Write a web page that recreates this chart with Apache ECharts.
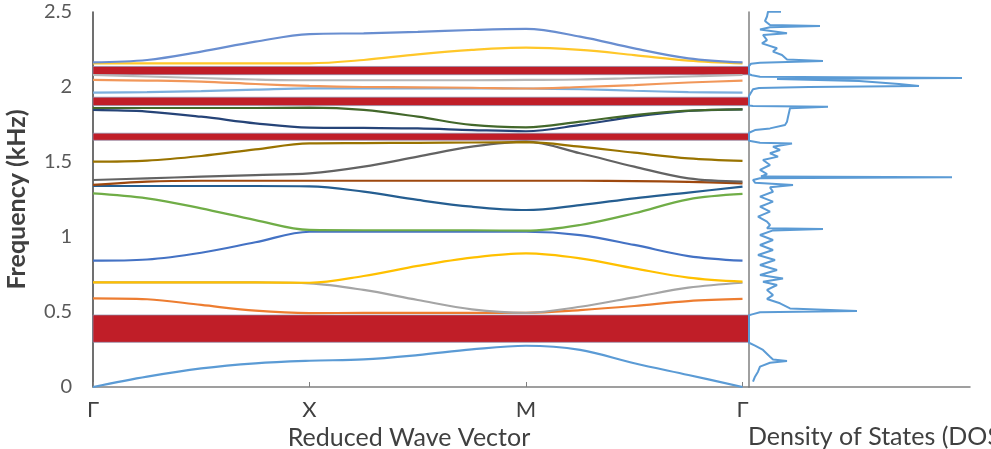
<!DOCTYPE html>
<html>
<head>
<meta charset="utf-8">
<style>
html,body{margin:0;padding:0;background:#fff;overflow:hidden;width:991px;height:449px;}
#chart{width:991px;height:449px;overflow:hidden;}
</style>
<script src="https://cdn.jsdelivr.net/npm/echarts@6/dist/echarts.min.js"></script>
</head>
<body>
<div id="chart"></div>
<script>
// Wave-vector sample positions (Γ=0, X=1, M=2, Γ=3)
const kPoints = [0, 0.25, 0.5, 0.75, 1, 1.25, 1.5, 1.75, 2, 2.25, 2.5, 2.75, 3];
const kLabels = ['Γ', 'X', 'M', 'Γ'];
const yTicks = [0, 0.5, 1, 1.5, 2, 2.5];

// Band frequencies (kHz) at each kPoint
const band1  = [0, 0.069, 0.124, 0.158, 0.175, 0.184, 0.213, 0.251, 0.275, 0.247, 0.158, 0.08, 0];
const band2  = [0.591, 0.585, 0.547, 0.509, 0.493, 0.494, 0.494, 0.494, 0.495, 0.513, 0.54, 0.573, 0.587];
const band3  = [0.698, 0.698, 0.698, 0.697, 0.691, 0.647, 0.58, 0.518, 0.495, 0.535, 0.598, 0.662, 0.695];
const band4  = [0.698, 0.698, 0.698, 0.697, 0.695, 0.74, 0.807, 0.862, 0.891, 0.858, 0.791, 0.729, 0.702];
const band5  = [0.842, 0.85, 0.895, 0.965, 1.035, 1.035, 1.035, 1.035, 1.035, 1.013, 0.947, 0.873, 0.842];
const band6  = [1.291, 1.258, 1.191, 1.113, 1.047, 1.045, 1.045, 1.045, 1.042, 1.08, 1.158, 1.251, 1.287];
const band7  = [1.34, 1.34, 1.34, 1.34, 1.338, 1.302, 1.247, 1.202, 1.18, 1.213, 1.258, 1.296, 1.336];
const band8  = [1.347, 1.369, 1.375, 1.375, 1.375, 1.375, 1.375, 1.375, 1.375, 1.375, 1.373, 1.368, 1.358];
const band9  = [1.38, 1.391, 1.402, 1.413, 1.424, 1.469, 1.536, 1.602, 1.636, 1.558, 1.469, 1.391, 1.369];
const band10 = [1.502, 1.509, 1.54, 1.584, 1.624, 1.626, 1.628, 1.63, 1.632, 1.602, 1.562, 1.524, 1.507];
const band11 = [1.847, 1.836, 1.802, 1.758, 1.729, 1.727, 1.724, 1.713, 1.705, 1.747, 1.802, 1.84, 1.851];
const band12 = [1.86, 1.86, 1.86, 1.86, 1.862, 1.847, 1.802, 1.747, 1.731, 1.769, 1.813, 1.842, 1.851];
const band13 = [1.962, 1.966, 1.973, 1.982, 1.991, 1.991, 1.991, 1.991, 1.99, 1.985, 1.975, 1.966, 1.962];
const band14 = [2.047, 2.043, 2.036, 2.02, 2.007, 2.0, 1.998, 1.995, 1.99, 2.0, 2.013, 2.03, 2.042];
const band15 = [2.08, 2.07, 2.06, 2.05, 2.045, 2.045, 2.045, 2.045, 2.047, 2.05, 2.06, 2.07, 2.08];
const band16 = [2.158, 2.158, 2.158, 2.158, 2.158, 2.18, 2.218, 2.247, 2.262, 2.247, 2.213, 2.176, 2.158];
const band17 = [2.164, 2.18, 2.236, 2.302, 2.353, 2.358, 2.367, 2.38, 2.387, 2.336, 2.258, 2.191, 2.164];

const bands = [band1, band2, band3, band4, band5, band6, band7, band8, band9,
               band10, band11, band12, band13, band14, band15, band16, band17];
const bandColors = ['#5B9BD5', '#ED7D31', '#A5A5A5', '#FFC000', '#4472C4', '#70AD47',
                    '#255E91', '#9E480E', '#636363', '#997300', '#264478', '#43682B',
                    '#7CAFDD', '#F1975A', '#B7B7B7', '#FFC729', '#698ED0'];

// Band gaps (kHz): [low, high]
const gaps = [[0.298, 0.48], [1.645, 1.692], [1.876, 1.932], [2.082, 2.137]];

// Density of states: frequency (kHz) and DOS value (arb. units)
const dosFreq = [2.502, 2.502, 2.47, 2.44, 2.413, 2.407, 2.398, 2.384, 2.358, 2.347, 2.313, 2.291, 2.258, 2.236, 2.213, 2.184, 2.173, 2.162, 2.155, 2.14,
  2.085, 2.078, 2.069, 2.06, 2.054, 2.046, 2.04, 2.02, 2.007, 2.0, 1.993, 1.985, 1.94,
  1.876, 1.873, 1.869, 1.858, 1.847, 1.8, 1.769, 1.747, 1.724, 1.713, 1.695,
  1.642, 1.629, 1.624, 1.602, 1.58, 1.558, 1.536, 1.513, 1.48, 1.447, 1.42, 1.403, 1.398, 1.392, 1.38, 1.362, 1.347, 1.331, 1.302, 1.269, 1.236, 1.202, 1.169, 1.136, 1.102,
  1.08, 1.058, 1.053, 1.044, 1.013, 0.98, 0.947, 0.913, 0.88, 0.847, 0.813, 0.78, 0.747, 0.724, 0.702, 0.68, 0.647, 0.613, 0.587, 0.558, 0.524, 0.507, 0.498, 0.484, 0.478,
  0.295, 0.276, 0.247, 0.202, 0.184, 0.173, 0.162, 0.136, 0.102, 0.069, 0.036];
const dosVal = [32, 19, 18, 16, 21, 71, 21, 11, 38, 14, 18, 13, 28, 24, 33, 38, 74, 11, 2, 0,
  0, 3, 11, 213, 28, 30, 110, 150, 170, 60, 10, 4, 0,
  0, 4, 79, 41, 39, 39, 38, 36, 21, 6, 0,
  0, 11, 43, 24, 31, 21, 29, 14, 21, 11, 18, 12, 203, 11, 4, 6, 44, 21, 24, 11, 24, 11, 21, 9, 18,
  21, 18, 74, 24, 11, 24, 11, 24, 9, 26, 11, 28, 11, 34, 14, 28, 18, 24, 18, 31, 41, 108, 11, 3, 0,
  0, 6, 14, 21, 24, 38, 21, 11, 9, 6, 4];

const font = 'Lato, "Open Sans", sans-serif';

const series = bands.map((b, i) => ({
  type: 'line',
  xAxisIndex: 0, yAxisIndex: 0,
  data: kPoints.map((k, j) => [k, b[j]]),
  smooth: 0.35,
  symbol: 'none',
  lineStyle: { color: bandColors[i], width: 2.2 },
  z: 2,
  silent: true
}));

series.push({
  type: 'line',
  xAxisIndex: 0, yAxisIndex: 0,
  data: [],
  z: 10,
  silent: true,
  markArea: {
    silent: true,
    itemStyle: { color: '#C01E28', borderColor: 'rgba(140,140,170,0.7)', borderWidth: 1 },
    data: gaps.map(g => [{ yAxis: g[0] }, { yAxis: g[1] }])
  }
});

series.push({
  type: 'line',
  xAxisIndex: 1, yAxisIndex: 1,
  data: dosFreq.map((f, i) => [dosVal[i], f]),
  symbol: 'none',
  lineStyle: { color: '#5B9BD5', width: 2 },
  z: 3,
  silent: true
});

const chart = echarts.init(document.getElementById('chart'), null, { width: 991, height: 449 });
chart.setOption({
  animation: false,
  backgroundColor: '#fff',
  title: {
    text: 'Density of States (DOS)',
    left: 748, top: 424,
    padding: 0,
    textStyle: { fontFamily: font, fontSize: 25, fontWeight: 'normal', color: '#404040' }
  },
  grid: [
    { left: 93, top: 12, width: 656, height: 375, containLabel: false, outerBoundsMode: 'none' },
    { left: 749, top: 12, width: 221, height: 375, containLabel: false, outerBoundsMode: 'none' }
  ],
  xAxis: [
    {
      gridIndex: 0, type: 'value', min: 0, max: 3.03, interval: 1,
      axisLine: { show: true, lineStyle: { color: '#808080', width: 1.5 } },
      axisTick: { show: true, inside: true, length: 5, lineStyle: { color: '#808080' } },
      splitLine: { show: false },
      axisLabel: {
        fontFamily: font, fontSize: 22, color: '#404040', margin: 12,
        showMaxLabel: false,
        formatter: v => (Math.abs(v - Math.round(v)) < 1e-6 && kLabels[Math.round(v)]) ? kLabels[Math.round(v)] : ''
      },
      name: 'Reduced Wave Vector',
      nameLocation: 'middle',
      nameGap: 37,
      nameTextStyle: { fontFamily: font, fontSize: 25, color: '#404040', padding: [0, 24, 0, 0] }
    },
    {
      gridIndex: 1, type: 'value', min: 0, max: 221,
      axisLine: { show: true, lineStyle: { color: '#808080', width: 1.5 } },
      axisTick: { show: false }, axisLabel: { show: false }, splitLine: { show: false }
    }
  ],
  yAxis: [
    {
      gridIndex: 0, type: 'value', min: 0, max: 2.5, interval: 0.5,
      axisLine: { show: true, lineStyle: { color: '#404040', width: 1.5 } },
      axisTick: { show: false },
      splitLine: { show: false },
      axisLabel: {
        fontFamily: font, fontSize: 20, color: '#595959', margin: 21,
        formatter: v => String(yTicks.find(t => Math.abs(t - v) < 1e-6) ?? v)
      },
      name: 'Frequency (kHz)',
      nameLocation: 'middle',
      nameRotate: 90,
      nameGap: 64,
      nameTextStyle: { fontFamily: font, fontSize: 25, fontWeight: 'bold', color: '#404040' }
    },
    {
      gridIndex: 1, type: 'value', min: 0, max: 2.5,
      axisLine: { show: true, lineStyle: { color: '#808080', width: 1.5 } },
      axisTick: { show: false }, axisLabel: { show: false }, splitLine: { show: false }
    }
  ],
  series: series
});
</script>
</body>
</html>
